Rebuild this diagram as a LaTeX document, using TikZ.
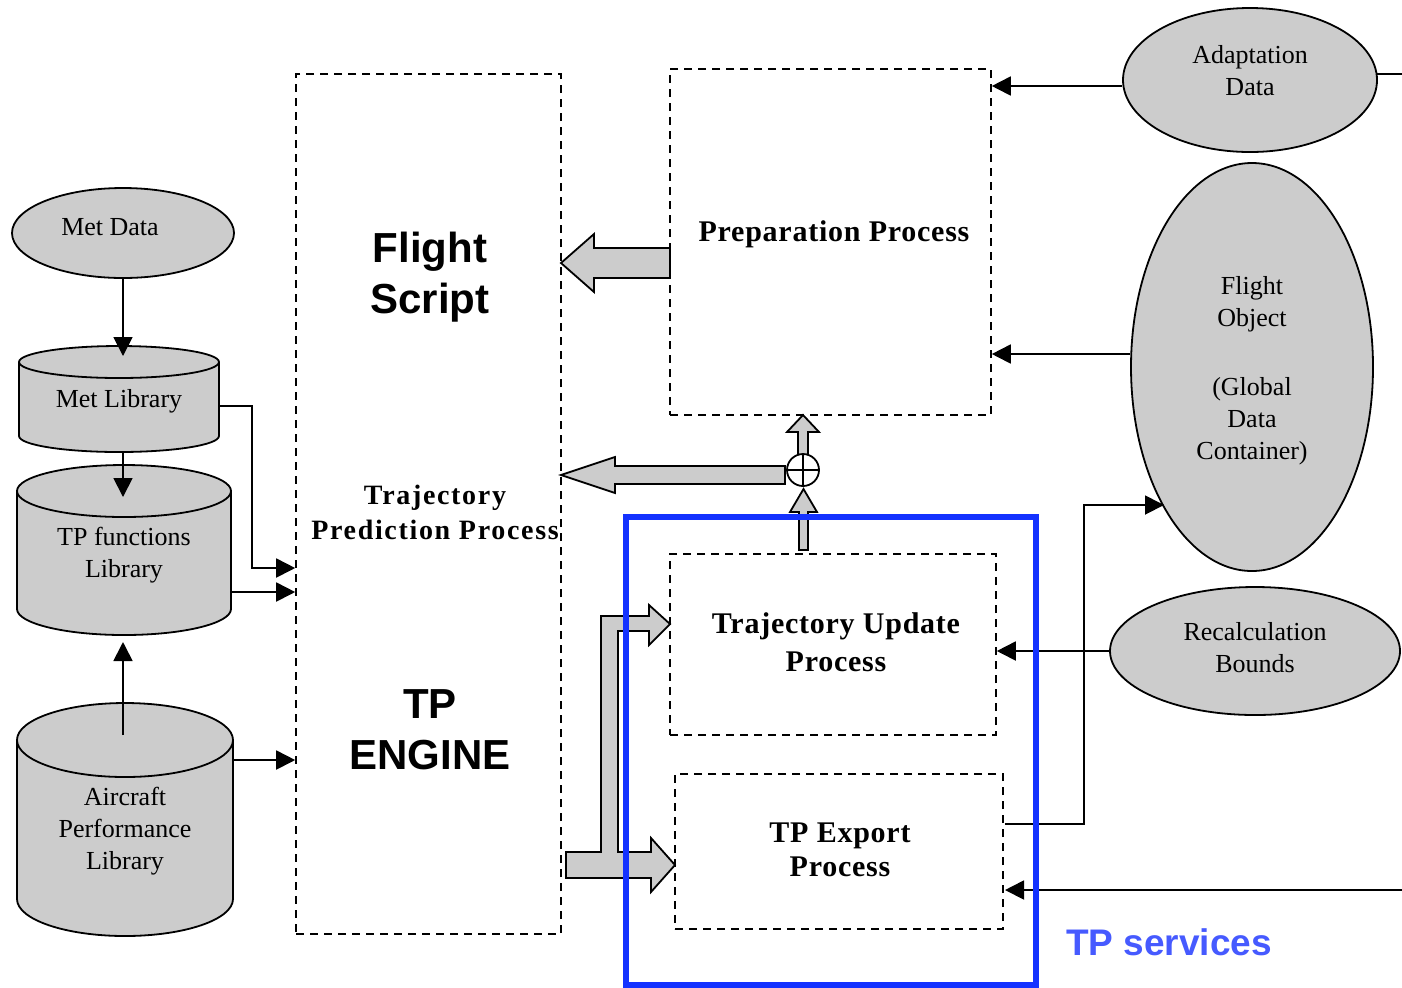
\documentclass[tikz,border=0pt]{standalone}
\usepackage{fontspec}
\setmainfont{Liberation Serif}
\newfontfamily\hsans{Liberation Sans}
\newfontfamily\procfont[LetterSpace=2.5]{Liberation Serif}
\newfontfamily\tppfont[LetterSpace=6]{Liberation Serif}
\usetikzlibrary{arrows.meta,shapes.geometric}
\definecolor{cylgray}{RGB}{204,204,204}
\definecolor{tpblue}{RGB}{20,50,255}
\definecolor{tpsblue}{RGB}{70,90,255}
\tikzset{
  oval/.style={ellipse, draw, fill=cylgray, line width=0.9pt, inner sep=0pt},
  dbox/.style={draw, dash pattern=on 4pt off 3pt, line width=0.8pt, inner sep=0pt},
  cylbody/.style={draw, fill=cylgray, line width=0.9pt},
  lbl/.style={font=\fontsize{13}{16}\selectfont, align=center, inner sep=0pt},
  proclbl/.style={font=\procfont\bfseries\fontsize{15}{19}\selectfont, align=center, inner sep=0pt},
  tpplbl/.style={font=\tppfont\bfseries\fontsize{14}{17.5}\selectfont, align=center, inner sep=0pt},
  biglbl/.style={font=\hsans\bfseries\fontsize{21}{25.5}\selectfont, align=center, inner sep=0pt},
  arr/.style={-{Triangle[length=9.5pt,width=9.5pt]}, line width=0.9pt},
  plain/.style={line width=0.9pt},
  blockarr/.style={draw, fill=cylgray, line width=0.9pt, line join=miter},
}
\begin{document}
\begin{tikzpicture}[x=0.5pt,y=-0.5pt]
\useasboundingbox (0,0) rectangle (1402,987);

% ---------- ellipses ----------
\node[oval, minimum width=111pt, minimum height=45pt] (metdata) at (123,233) {};
\node[lbl] (metdatat) at (110,227) {Met Data};
\node[oval, minimum width=127pt, minimum height=72pt] (adapt) at (1250,80) {};
\node[lbl] (adaptt) at (1250,71) {Adaptation\\Data};
\node[oval, minimum width=121pt, minimum height=204pt] (fobj) at (1252,367) {};
\node[lbl] (fobjt) at (1252,371) {Flight\\Object\\[18.5pt](Global\\Data\\Container)};
\node[oval, minimum width=145pt, minimum height=64pt] (recalc) at (1255,651) {};
\node[lbl] (recalct) at (1255,648) {Recalculation\\Bounds};

% ---------- cylinders ----------
\filldraw[cylbody] (19,362) -- (19,436) arc[start angle=180,end angle=360,x radius=50pt,y radius=8pt] -- (219,362);
\filldraw[cylbody] (119,362) ellipse[x radius=50pt,y radius=8pt];
\node[lbl] (metlib) at (119,401) {Met Library};

\filldraw[cylbody] (17,491) -- (17,609) arc[start angle=180,end angle=360,x radius=53.5pt,y radius=13pt] -- (231,491);
\filldraw[cylbody] (124,491) ellipse[x radius=53.5pt,y radius=13pt];
\node[lbl] (tpfun) at (124,555) {TP functions\\Library};

\filldraw[cylbody] (17,740) -- (17,899) arc[start angle=180,end angle=360,x radius=54pt,y radius=18.5pt] -- (233,740);
\filldraw[cylbody] (125,740) ellipse[x radius=54pt,y radius=18.5pt];
\node[lbl] (acperf) at (125,831) {Aircraft\\Performance\\Library};

\coordinate (metlibin) at (123,356);
\coordinate (metlibout) at (123,452);
\coordinate (metlibr) at (219,406);
\coordinate (tpfunin) at (123,497);
\coordinate (tpfunr) at (231,592);
\coordinate (tpfunbot) at (123,642);
\coordinate (acin) at (123,735);
\coordinate (acr) at (233,760);

% ---------- dashed boxes ----------
\node[dbox, minimum width=132.5pt, minimum height=430pt] (engine) at (428.5,504) {};
\node[dbox, minimum width=160.5pt, minimum height=173pt] (prep) at (830.5,242) {};
\node[dbox, minimum width=163pt, minimum height=90.5pt] (tupd) at (833,644.5) {};
\node[dbox, minimum width=164pt, minimum height=77.5pt] (texp) at (839,851.5) {};

\node[biglbl] (fscript) at (430,277) {Flight\\Script};
\node[tpplbl] (tppt) at (435,512) {Trajectory\\Prediction Process};
\node[biglbl] (tpeng) at (430,730) {TP\\ENGINE};
\node[proclbl] (prept) at (834,234) {Preparation Process};
\node[proclbl] (tupdt) at (836,642) {Trajectory Update\\Process};
\node[proclbl, font=\procfont\bfseries\fontsize{15}{17}\selectfont] (texpt) at (840,850) {TP Export\\Process};

% ---------- block arrows ----------
\path[blockarr] (670,248) -- (594,248) -- (594,234) -- (561,263) -- (594,292) -- (594,278) -- (670,278) -- cycle;
\path[blockarr] (785,466) -- (615,466) -- (615,457) -- (561,475) -- (615,493) -- (615,484) -- (785,484) -- cycle;
\path[blockarr] (798,455) -- (798,432) -- (787,432) -- (803,415) -- (819,432) -- (808,432) -- (808,455) -- cycle;
\path[blockarr] (799,550) -- (799,512) -- (790,512) -- (803.5,489) -- (817,512) -- (808,512) -- (808,550) -- cycle;
\path[blockarr] (566,852) -- (601,852) -- (601,616) -- (649,616) -- (649,605) -- (670,624) -- (649,645) -- (649,631) -- (618,631) -- (618,852) -- (651,852) -- (651,838) -- (675,865) -- (651,892) -- (651,878) -- (566,878) -- cycle;

\node[circle, draw, fill=white, minimum size=16pt, inner sep=0pt, line width=0.9pt] (sum) at (803,470) {};
\draw[plain] (sum.north) -- (sum.south) (sum.west) -- (sum.east);

% ---------- connectors ----------
\draw[arr] (metdata.south) -- (metlibin);
\draw[arr] (metlibout) -- (tpfunin);
\draw[arr] (metlibr) -| (252,568) -- (engine.west |- 0,568);
\draw[arr] (tpfunr) -- (engine.west |- tpfunr);
\draw[arr] (acin) -- (tpfunbot);
\draw[arr] (acr) -- (engine.west |- acr);

\draw[arr] (adapt.west |- 0,86) -- (prep.east |- 0,86);
\draw[plain] (1377,74) -- (1402,74);
\draw[arr] (fobj.west |- 0,354) -- (prep.east |- 0,354);
\draw[arr] (recalc.west) -- (tupd.east |- recalc.west);
\coordinate (texpout) at (1005,824);
\coordinate (fobjin) at (1164,505);
\draw[arr] (texpout) -- (1084,824) -- (1084,505) -- (fobjin);
\coordinate (extin) at (1402,890);
\draw[arr] (extin) -- (1005,890);

% ---------- TP services ----------
\node[draw=tpblue, line width=3pt, minimum width=205pt, minimum height=234pt, inner sep=0pt] (tpserv) at (831,751) {};
\node[font=\hsans\bfseries\fontsize{18.5}{22}\selectfont, text=tpsblue, inner sep=0pt] (tpservt) at (1169,942) {TP services};
\end{tikzpicture}
\end{document}
